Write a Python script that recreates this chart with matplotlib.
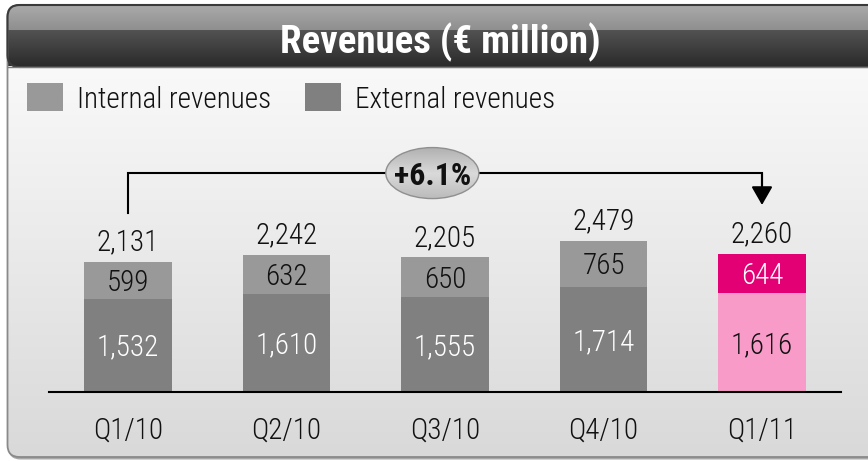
import numpy as np
import matplotlib
matplotlib.use('Agg')
import matplotlib.pyplot as plt
from matplotlib import font_manager as fm
from matplotlib.patches import FancyBboxPatch, Rectangle, Ellipse
from matplotlib.colors import to_rgb

# ---------------- data ----------------
quarters = ['Q1/10', 'Q2/10', 'Q3/10', 'Q4/10', 'Q1/11']
external = [1532, 1610, 1555, 1714, 1616]
internal = [599, 632, 650, 765, 644]
totals = [2131, 2242, 2205, 2479, 2260]
growth_label = '+6.1%'
title = 'Revenues (\u20ac million)'
legend_labels = ['Internal revenues', 'External revenues']

# ---------------- fonts ----------------
names = {f.name for f in fm.fontManager.ttflist}
if 'Roboto Condensed' in names:
    FAM = ['Roboto Condensed', 'DejaVu Sans']
    fs_num, fs_leg, fs_title, fs_growth = 21, 21, 28, 23
else:
    FAM = ['Roboto', 'DejaVu Sans']
    fs_num, fs_leg, fs_title, fs_growth = 20, 19, 24.5, 21
plt.rcParams['font.family'] = FAM
TW = 'light'

W, H = 868, 461
fig = plt.figure(figsize=(W / 100, H / 100), dpi=100)
fig.patch.set_facecolor('white')

# ---------------- background / frame ----------------
bg = fig.add_axes([0, 0, 1, 1])
bg.set_xlim(0, W)
bg.set_ylim(H, 0)
bg.axis('off')

fx0, fy0, fx1, fy1 = 7.5, 5, 885, 457
tb = 67  # bottom of title bar
shadow = FancyBboxPatch((fx0 + 1, fy0 + 2.5), fx1 - fx0, fy1 - fy0,
                        boxstyle='round,pad=0,rounding_size=12',
                        fc='#a8a8a8', ec='none', zorder=0)
bg.add_patch(shadow)
frame = FancyBboxPatch((fx0, fy0), fx1 - fx0, fy1 - fy0,
                       boxstyle='round,pad=0,rounding_size=12',
                       fc='none', ec='none', zorder=1)
bg.add_patch(frame)


def lerp(c0, c1, n):
    a, b = np.array(to_rgb(c0)), np.array(to_rgb(c1))
    t = np.linspace(0, 1, n)[:, None]
    return a * (1 - t) + b * t


rows = [lerp('#ababab', '#8f8f8f', 26),
        lerp('#525252', '#2b2b2b', tb - fy0 - 26),
        lerp('#f9f9f9', '#d9d9d9', int(fy1 - tb))]
grad = np.vstack(rows)[:, None, :]
im = bg.imshow(grad, extent=(fx0, fx1, fy1, fy0), aspect='auto',
               interpolation='nearest', zorder=1)
im.set_clip_path(frame)
bg.set_xlim(0, W)
bg.set_ylim(H, 0)
border = FancyBboxPatch((fx0, fy0), fx1 - fx0, fy1 - fy0,
                        boxstyle='round,pad=0,rounding_size=12',
                        fc='none', ec='#8a8a8a', lw=1.3, zorder=3)
bg.add_patch(border)
top_border = FancyBboxPatch((fx0, fy0), fx1 - fx0, tb - fy0,
                            boxstyle='round,pad=0,rounding_size=12',
                            fc='none', ec='#3a3a3a', lw=1.5, zorder=3)
bg.add_patch(top_border)
bg.plot([fx0, fx1], [tb, tb], color='#7a7a7a', lw=1.0, zorder=3)

bg.text(440, 53, title, color='white', fontsize=fs_title, fontweight='bold',
        ha='center', va='baseline', zorder=4)

# legend
col_int, col_ext = '#999999', '#808080'
leg_pos = [(27, 77), (305, 355)]
for (sx, tx), lab, c in zip(leg_pos, legend_labels, [col_int, col_ext]):
    bg.add_patch(Rectangle((sx, 83), 36, 28, fc=c, ec='none', zorder=4))
    bg.text(tx, 108, lab, fontsize=fs_leg, fontweight=TW, color='#111111',
            ha='left', va='baseline', zorder=4)

# ---------------- bars ----------------
px_per_unit = 0.061
ax_left, ax_right, ax_base, ax_top = 48.75, 841.25, 392, 100
ax = fig.add_axes([ax_left / W, (H - ax_base) / H,
                   (ax_right - ax_left) / W, (ax_base - ax_top) / H])
ax.patch.set_visible(False)
ymax = (ax_base - ax_top) / px_per_unit
ax.set_xlim(-0.5, 4.5)
ax.set_ylim(0, ymax)

x = np.arange(len(quarters))
ext_colors = [col_ext] * 4 + ['#F99BC9']
int_colors = [col_int] * 4 + ['#E20074']
ax.bar(x, external, width=0.555, color=ext_colors, zorder=1)
ax.bar(x, internal, bottom=external, width=0.555, color=int_colors, zorder=1)

dh = 0.711 * fs_num * 100 / 72  # digit height in px
ext_txt = ['white'] * 4 + ['#111111']
int_txt = ['#111111'] * 4 + ['white']
for i in range(len(quarters)):
    ax.annotate(f'{external[i]:,}', xy=(i, external[i] / 2), xytext=(0, -dh / 2),
                textcoords='offset pixels', ha='center', va='baseline',
                fontsize=fs_num, fontweight=TW, color=ext_txt[i])
    ax.annotate(f'{internal[i]:,}', xy=(i, external[i] + internal[i] / 2),
                xytext=(0, -dh / 2), textcoords='offset pixels', ha='center',
                va='baseline', fontsize=fs_num, fontweight=TW, color=int_txt[i])
    ax.annotate(f'{totals[i]:,}', xy=(i, totals[i]), xytext=(0, 22 - dh / 2),
                textcoords='offset pixels', ha='center', va='baseline',
                fontsize=fs_num, fontweight=TW, color='#111111')
    ax.annotate(quarters[i], xy=(i, 0), xytext=(0, -47),
                textcoords='offset pixels', ha='center', va='baseline',
                fontsize=fs_num, fontweight=TW, color='#111111')

for s in ['left', 'right', 'top']:
    ax.spines[s].set_visible(False)
ax.spines['bottom'].set_color('black')
ax.spines['bottom'].set_linewidth(1.5)
ax.set_xticks([])
ax.set_yticks([])

# growth bracket
level = max(totals) + 1110
y_left = totals[0] + 800
y_right = totals[-1] + 806
ax.plot([0, 0, 4, 4], [y_left, level, level, y_right + 300], color='black',
        lw=1.5, solid_joinstyle='miter', zorder=3)
ax.annotate('', xy=(4, y_right), xytext=(4, level),
            arrowprops=dict(arrowstyle='-|>,head_length=0.75,head_width=0.43',
                            mutation_scale=15, lw=1.5, color='black',
                            shrinkA=0, shrinkB=0), zorder=3)

ex, ew, eh = 1.92, 0.587, 836
ell = Ellipse((ex, level), ew, eh, fc='none', ec='none', zorder=4)
ax.add_patch(ell)
eg = np.vstack([lerp('#b2b2b2', '#d9d9d9', 20), lerp('#d9d9d9', '#bbbbbb', 20)])[:, None, :]
eim = ax.imshow(eg, extent=(ex - ew / 2, ex + ew / 2, level - eh / 2, level + eh / 2),
                aspect='auto', interpolation='bilinear', zorder=4)
eim.set_clip_path(ell)
ax.add_patch(Ellipse((ex, level), ew, eh, fc='none', ec='#8f8f8f', lw=1.0, zorder=5))
ax.set_xlim(-0.5, 4.5)
ax.set_ylim(0, ymax)
ax.annotate(growth_label, xy=(ex, level), xytext=(0, -12), textcoords='offset pixels',
            ha='center', va='baseline', fontsize=fs_growth, fontweight='bold',
            color='#111111', zorder=6)

fig.savefig('out.png', dpi=100)
